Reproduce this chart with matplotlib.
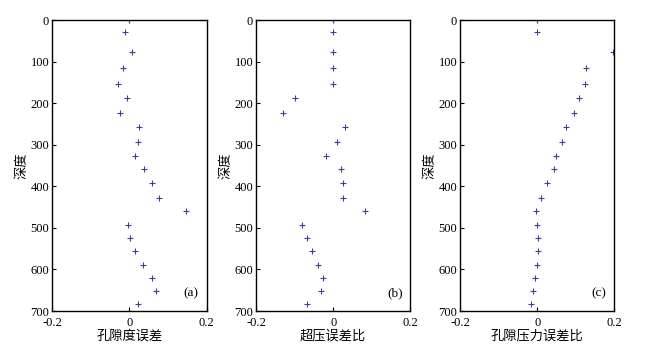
import matplotlib
matplotlib.use('Agg')
import matplotlib.pyplot as plt

# Depth of each sample (shared by all three panels)
depth = [0, 30, 76, 116, 153, 188, 224, 258, 293, 326, 359,
         393, 427, 459, 492, 524, 556, 589, 621, 653, 683]

# (a) porosity error
porosity_err = [0.0, -0.011, 0.008, -0.015, -0.029, -0.007, -0.023, 0.024, 0.022, 0.015, 0.038,
                0.059, 0.076, 0.148, -0.004, 0.001, 0.015, 0.035, 0.059, 0.068, 0.023]
# (b) overpressure error ratio
overpress_err = [0.0, 0.0, 0.0, 0.0, 0.0, -0.098, -0.131, 0.030, 0.010, -0.018, 0.020,
                 0.025, 0.025, 0.082, -0.080, -0.068, -0.055, -0.040, -0.026, -0.031, -0.068]
# (c) pore pressure error ratio
porepress_err = [0.0, 0.0, 0.196, 0.127, 0.123, 0.108, 0.094, 0.075, 0.063, 0.049, 0.043,
                 0.024, 0.011, -0.004, 0.0, 0.003, 0.001, 0.0, -0.006, -0.012, -0.016]

xlabels = ['孔隙度误差', '超压误差比', '孔隙压力误差比']
tags = ['(a)', '(b)', '(c)']
series = [porosity_err, overpress_err, porepress_err]

serif = ['Liberation Serif', 'DejaVu Serif']
cjk = ['Noto Sans CJK SC', 'DejaVu Sans']

fig = plt.figure(figsize=(6.56, 3.5), dpi=100)
lefts = [0.0793, 0.3902, 0.7012]

for left, vals, xl, tag in zip(lefts, series, xlabels, tags):
    ax = fig.add_axes([left, 0.1114, 0.2355, 0.8314])
    ax.plot(vals, depth, linestyle='none', marker='+', color='#40408c',
            markersize=4.5, markeredgewidth=0.8)
    ax.set_xlim(-0.2, 0.2)
    ax.set_ylim(700, 0)
    ax.set_xticks([-0.2, 0, 0.2])
    ax.set_xticklabels(['-0.2', '0', '0.2'])
    ax.set_yticks(range(0, 701, 100))
    ax.tick_params(direction='in', length=3, width=0.8, labelsize=9,
                   top=False, right=False)
    ax.tick_params(axis='x', pad=4.5)
    ax.tick_params(axis='y', pad=2)
    for lab in ax.get_xticklabels() + ax.get_yticklabels():
        lab.set_family(serif)
    for sp in ax.spines.values():
        sp.set_linewidth(1.0)
    ax.set_xlabel(xl, family=cjk, fontsize=9.5, labelpad=0)
    ax.set_ylabel('深度', family=cjk, fontsize=9.5, labelpad=1)
    ax.text(0.9, 0.04, tag, transform=ax.transAxes, ha='center', va='bottom',
            fontsize=9.5, family=serif)

fig.savefig('out.png', dpi=100)
plt.close(fig)
